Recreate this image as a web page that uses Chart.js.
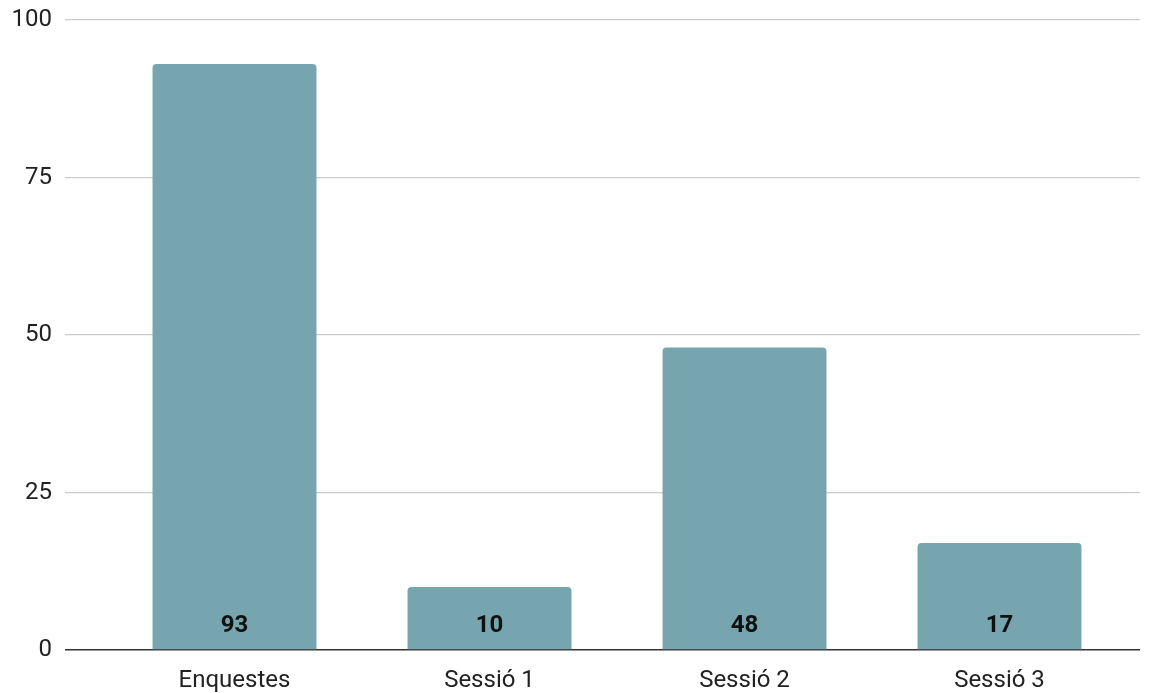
<!DOCTYPE html>
<html>
<head>
<meta charset="utf-8">
<script src="https://cdn.jsdelivr.net/npm/chart.js@4"></script>
<style>
    html, body { margin: 0; padding: 0; background: #fff; }
    #wrap { width: 1157px; height: 693px; }
</style>
</head>
<body>
<div id="wrap"><canvas id="diag1" width="1157" height="693"></canvas></div>
<script>
const categories = ["Enquestes", "Sessió 1", "Sessió 2", "Sessió 3"];
const values = [93, 10, 48, 17];
const yTicks = [0, 25, 50, 75, 100];

/* Etiquetes de valor al peu de cada barra */
const barLabels = {
    id: "barLabels",
    afterDatasetsDraw(chart) {
        const ctx = chart.ctx;
        const meta = chart.getDatasetMeta(0);
        ctx.save();
        ctx.font = "bold 24px Roboto";
        ctx.fillStyle = "#111";
        ctx.textAlign = "center";
        ctx.textBaseline = "middle";
        meta.data.forEach((bar, i) => {
            ctx.fillText(String(values[i]), bar.x, bar.base - 23);
        });
        ctx.restore();
    }
};

document.addEventListener("DOMContentLoaded", () => {
    const chart1 = document.getElementById("diag1");

    new Chart(chart1, {
        type: "bar",
        plugins: [barLabels],
        data: {
            labels: categories,
            datasets: [{
                data: values,
                backgroundColor: "#76a5af",
                borderRadius: 4,
                barPercentage: 0.643,
                categoryPercentage: 1
            }]
        },
        options: {
            responsive: false,
            animation: false,
            layout: {
                padding: { top: 20, right: 0, left: 0, bottom: 0 }
            },
            plugins: {
                legend: { display: false },
                tooltip: { enabled: false }
            },
            scales: {
                x: {
                    grid: { display: false },
                    border: { display: false },
                    ticks: {
                        color: "#222",
                        padding: 9,
                        font: { family: "Roboto", size: 24 }
                    },
                    afterFit: (scale) => { scale.height = 43; }
                },
                y: {
                    min: 0,
                    max: 100,
                    afterBuildTicks: (scale) => {
                        scale.ticks = yTicks.map(v => ({ value: v }));
                    },
                    border: { display: false },
                    grid: {
                        color: (c) => c.tick && c.tick.value === 0 ? "#333" : "#cccccc",
                        lineWidth: (c) => c.tick && c.tick.value === 0 ? 1.5 : 1.2,
                        tickLength: 42
                    },
                    ticks: {
                        color: "#222",
                        padding: 13,
                        font: { family: "Roboto", size: 24 }
                    },
                    afterFit: (scale) => {
                        scale.width = 107;
                        scale.paddingTop = 0;
                        scale.paddingBottom = 0;
                    }
                },
                y2: {
                    position: "right",
                    min: 0,
                    max: 100,
                    afterBuildTicks: (scale) => {
                        scale.ticks = yTicks.map(v => ({ value: v }));
                    },
                    border: { display: false },
                    grid: {
                        drawOnChartArea: false,
                        color: (c) => c.tick && c.tick.value === 0 ? "#333" : "#cccccc",
                        lineWidth: (c) => c.tick && c.tick.value === 0 ? 1.5 : 1.2,
                        tickLength: 13
                    },
                    ticks: { display: false },
                    afterFit: (scale) => {
                        scale.width = 30;
                        scale.paddingTop = 0;
                        scale.paddingBottom = 0;
                    }
                }
            }
        }
    });
});
</script>
</body>
</html>
